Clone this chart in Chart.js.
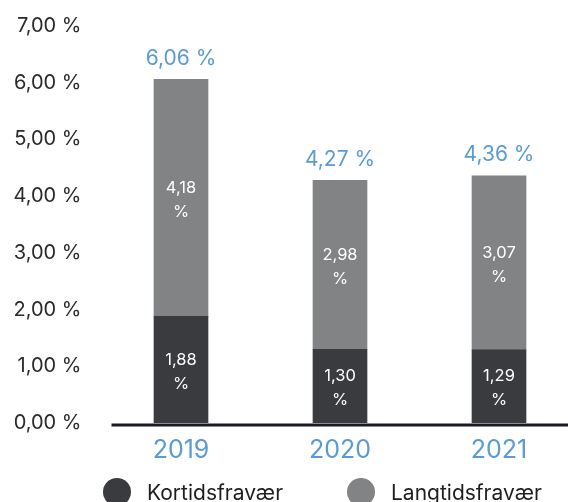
<!DOCTYPE html>
<html>
<head>
<meta charset="utf-8">
<script src="https://cdn.jsdelivr.net/npm/chart.js@4"></script>
<style>
  html, body { margin: 0; padding: 0; background: #fff; overflow: hidden; }
  #wrap { width: 590px; height: 502px; }
</style>
</head>
<body>
<div id="wrap"><canvas id="absChart"></canvas></div>
<script>
// Data
const years = ['2019', '2020', '2021'];
const kortid = [1.88, 1.30, 1.29];
const langtid = [4.18, 2.98, 3.07];
const totals = [6.06, 4.27, 4.36];
const yTicks = [0, 1, 2, 3, 4, 5, 6, 7];

const darkGrey = '#393b3f';
const midGrey = '#818385';
const blue = '#5b9bd5';
const fontFam = "'Inter', sans-serif";

const fmt = v => v.toFixed(2).replace('.', ',');

Chart.defaults.font.family = fontFam;

// labels inside the bars, totals above, baseline and legend
const labelPlugin = {
    id: 'barLabels',
    afterDatasetsDraw(chart) {
        const ctx = chart.ctx;
        const area = chart.chartArea;
        ctx.save();
        ctx.textAlign = 'center';
        ctx.textBaseline = 'middle';
        chart.data.datasets.forEach((ds, di) => {
            chart.getDatasetMeta(di).data.forEach((bar, i) => {
                const mid = (bar.y + bar.base) / 2;
                ctx.fillStyle = '#ffffff';
                ctx.font = '16.5px ' + fontFam;
                ctx.fillText(fmt(ds.data[i]), bar.x, mid - 10);
                ctx.fillText('%', bar.x, mid + 14);
            });
        });
        const topMeta = chart.getDatasetMeta(1);
        ctx.fillStyle = blue;
        ctx.font = '21px ' + fontFam;
        topMeta.data.forEach((bar, i) => {
            ctx.fillText(fmt(totals[i]) + ' %', bar.x, bar.y - 21);
        });

        // baseline
        const y0 = chart.scales.y.getPixelForValue(0);
        ctx.strokeStyle = '#1c1c24';
        ctx.lineWidth = 3;
        ctx.beginPath();
        ctx.moveTo(area.left + 10, y0 + 2);
        ctx.lineTo(chart.width, y0 + 2);
        ctx.stroke();

        // legend
        const legendY = y0 + 69;
        const itemX = [area.left + 15.5, area.left + 259.5];
        ctx.textAlign = 'left';
        ctx.font = '21px ' + fontFam;
        chart.data.datasets.forEach((ds, di) => {
            ctx.fillStyle = ds.backgroundColor;
            ctx.beginPath();
            ctx.arc(itemX[di], legendY, 14, 0, Math.PI * 2);
            ctx.fill();
            ctx.fillStyle = '#1e1e1e';
            ctx.fillText(ds.label, itemX[di] + 30, legendY + 2);
        });
        ctx.restore();
    }
};

const absChart = new Chart(document.getElementById('absChart'), {
    type: 'bar',
    data: {
        labels: years,
        datasets: [
            {
                label: 'Kortidsfravær',
                data: kortid,
                backgroundColor: darkGrey
            },
            {
                label: 'Langtidsfravær',
                data: langtid,
                backgroundColor: midGrey
            }
        ]
    },
    options: {
        responsive: true,
        maintainAspectRatio: false,
        animation: false,
        datasets: {
            bar: {
                barThickness: 54
            }
        },
        layout: {
            padding: { top: 26, right: 11.5, bottom: 0, left: 0 }
        },
        plugins: {
            legend: { display: false },
            tooltip: { enabled: false }
        },
        scales: {
            x: {
                stacked: true,
                grid: { display: false, drawTicks: false },
                border: { display: false },
                ticks: {
                    color: blue,
                    padding: 12,
                    font: { size: 25 }
                },
                afterFit(scale) { scale.height = 79; }
            },
            y: {
                stacked: true,
                min: 0,
                max: 7,
                grid: { display: false, drawTicks: false },
                border: { display: false },
                afterBuildTicks(scale) {
                    scale.ticks = yTicks.map(v => ({ value: v }));
                },
                ticks: {
                    color: '#2a2a2a',
                    padding: 20,
                    font: { size: 20 },
                    callback: v => fmt(v) + ' %'
                },
                afterFit(scale) {
                    scale.width = 101.5;
                    scale.paddingTop = 0;
                    scale.paddingBottom = 0;
                }
            }
        }
    },
    plugins: [labelPlugin]
});
</script>
</body>
</html>
